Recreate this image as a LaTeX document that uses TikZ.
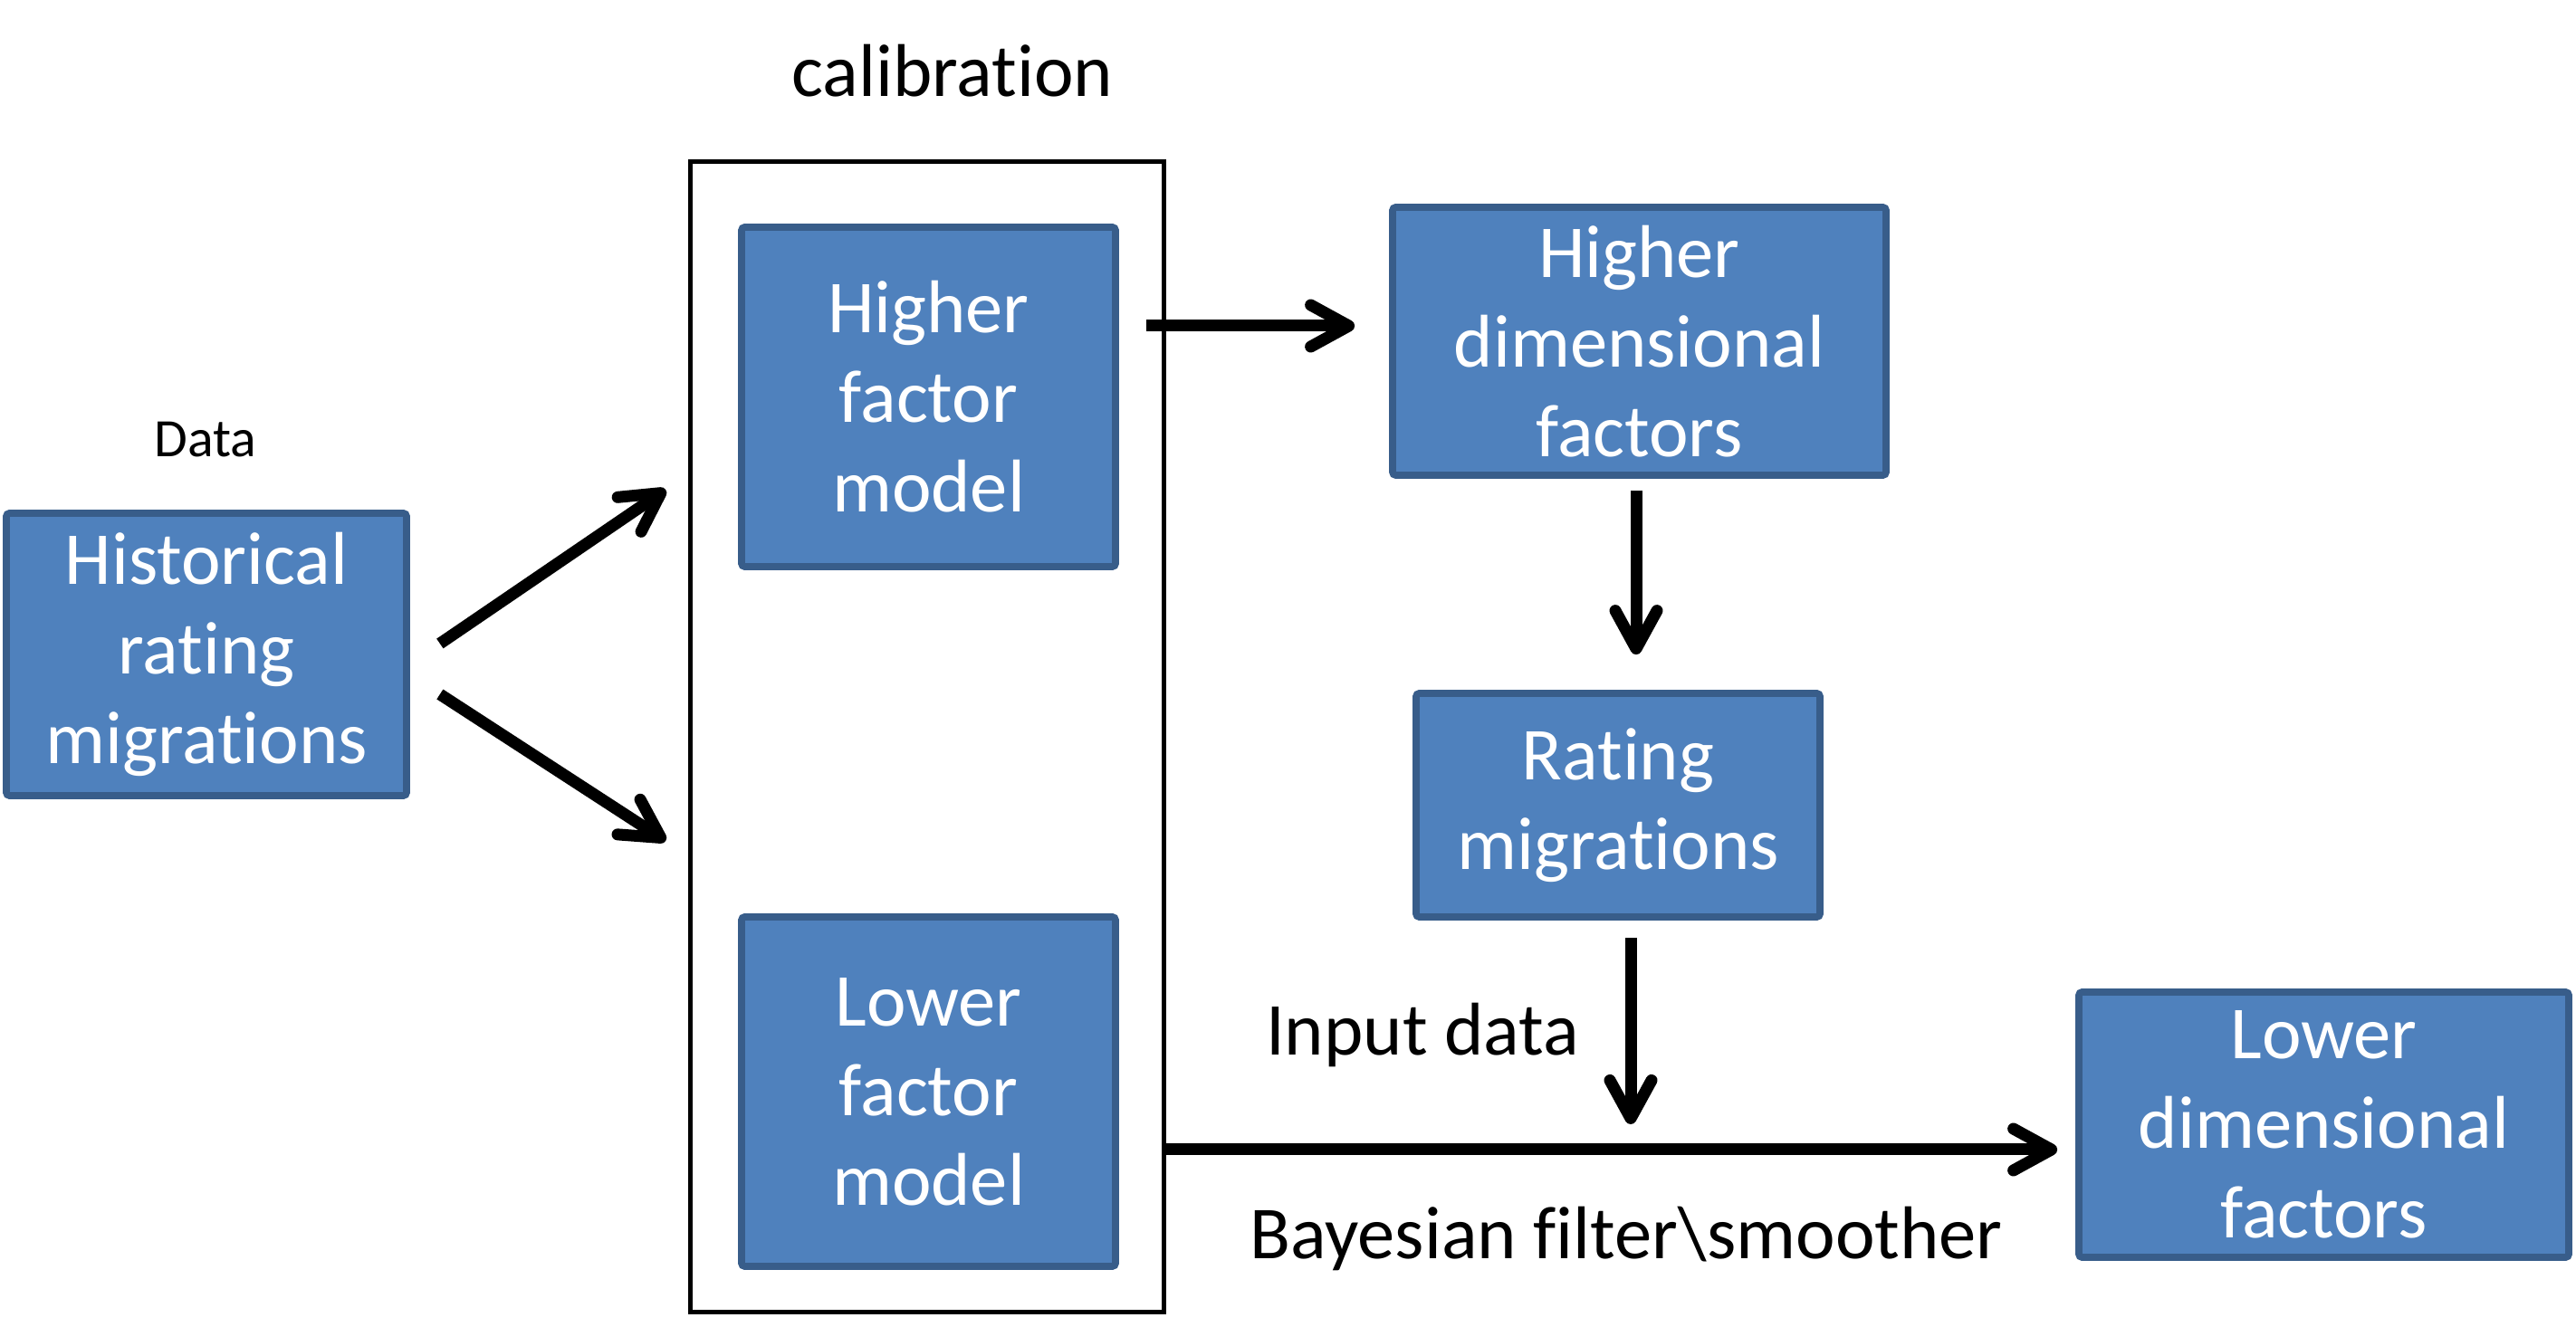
\documentclass[tikz,border=0pt]{standalone}
\usepackage{fontspec}
\setmainfont[Ligatures={NoCommon,NoRequired,NoContextual},Contextuals={NoAlternate}]{Carlito}
\usepackage{tikz}
\usetikzlibrary{arrows.meta}

\definecolor{boxfill}{HTML}{4F81BD}
\definecolor{boxline}{HTML}{385D8A}

\begin{document}
\begin{tikzpicture}[
  factorbox/.style={draw=boxline, line width=2.2pt, rounded corners=1pt, fill=boxfill,
    text=white, align=center, inner sep=0pt, font=\fontsize{23.5}{28.2}\selectfont},
  plainlabel/.style={align=center, inner sep=0pt, font=\fontsize{23.5}{28.2}\selectfont},
  flowarrow/.style={-{Straight Barb[length=4.2mm, width=4.6mm, line cap=round, line join=round]},
    line width=3.7pt}
]
\useasboundingbox (0,0) rectangle (28.45,14.66);
% calibration frame
\node[draw, line width=1.3pt, minimum width=5.23cm, minimum height=12.71cm] (calib) at (10.24,6.52) {};
\node[plainlabel] (calibtitle) at (10.52,13.88) {calibration};
\node[plainlabel, font=\fontsize{17}{20}\selectfont] (datalabel) at (2.27,9.80) {Data};
\node[factorbox, minimum width=4.42cm, minimum height=3.12cm] (hist) at (2.28,7.43) {Historical\\rating\\migrations};
\node[factorbox, minimum width=4.13cm, minimum height=3.75cm] (hfm) at (10.255,10.275) {Higher\\factor\\model};
\node[factorbox, minimum width=4.13cm, minimum height=3.86cm] (lfm) at (10.255,2.60) {Lower\\factor\\model};
\node[factorbox, minimum width=5.45cm, minimum height=2.96cm] (hdf) at (18.105,10.89) {Higher\\dimensional\\factors};
\node[factorbox, minimum width=4.46cm, minimum height=2.47cm] (rm) at (17.87,5.765) {Rating\\migrations};
\node[factorbox, minimum width=5.41cm, minimum height=2.93cm] (ldf) at (25.665,2.235) {Lower\\dimensional\\factors};
\node[plainlabel] (inputlabel) at (15.71,3.23) {Input data};
\node[plainlabel] (filterlabel) at (17.96,0.98) {Bayesian filter\textbackslash smoother};
\coordinate (merge) at (18.01,1.96);
% arrows
\draw[flowarrow] ([xshift=3.3mm,yshift=1.2mm]hist.east) -- ([xshift=-2.5mm,yshift=27.3mm]calib.west);
\draw[flowarrow] ([xshift=3.3mm,yshift=-4.4mm]hist.east) -- ([xshift=-2.5mm,yshift=-11.5mm]calib.west);
\draw[flowarrow, shorten <=3mm, shorten >=3.8mm] ([yshift=7.85mm]hfm.east) -- ([yshift=7.85mm]hfm.east -| hdf.west);
\draw[flowarrow, shorten <=1.3mm, shorten >=3.9mm] ([xshift=-0.35mm]hdf.south) -- ([xshift=-0.35mm]hdf.south |- rm.north);
\draw[flowarrow, shorten <=1.9mm, shorten >=2.8mm] ([xshift=1.4mm]rm.south) -- ([xshift=1.4mm]rm.south |- merge);
\draw[flowarrow, shorten >=2mm] (calib.east |- merge) -- (merge -| ldf.west);
\end{tikzpicture}
\end{document}
